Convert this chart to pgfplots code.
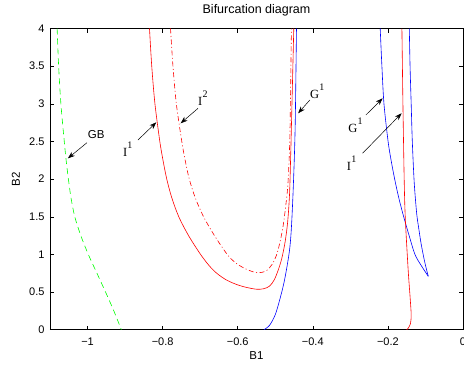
\documentclass[border=0pt]{standalone}
\usepackage{pgfplots}
\pgfplotsset{compat=1.18}
\usepackage{fontspec}
\setmainfont{Liberation Sans}
\newfontfamily\serif{Liberation Serif}
\usetikzlibrary{arrows.meta}
\newcommand{\lab}[2]{{\serif\fontsize{12.5}{12.5}\selectfont #1\kern0.3pt\raisebox{8pt}{\fontsize{10}{10}\selectfont #2}}}
\begin{document}
\begin{tikzpicture}
\begin{axis}[
  scale only axis, width=413pt, height=301.2pt,
  xmin=-1.1, xmax=0, ymin=0, ymax=4,
  axis line style={black, line width=0.6pt},
  tick align=inside, major tick length=4pt,
  tick style={black, line width=0.5pt},
  xtick={-1,-0.8,-0.6,-0.4,-0.2,0},
  xticklabels={−1,−0.8,−0.6,−0.4,−0.2,0},
  ytick={0,0.5,1,1.5,2,2.5,3,3.5,4},
  yticklabels={0,0.5,1,1.5,2,2.5,3,3.5,4},
  tick label style={font=\fontsize{11}{11}\selectfont},
  xticklabel style={yshift=-5pt},
  yticklabel style={xshift=-2pt},
  title={Bifurcation diagram},
  title style={font=\fontsize{12.5}{12.5}\selectfont, at={(axis description cs:0.5,1.0305)}, anchor=base},
  xlabel={B1}, ylabel={B2},
  xlabel style={font=\fontsize{11.5}{11.5}\selectfont, at={(axis description cs:0.5,-0.0983)}, anchor=base},
  ylabel style={font=\fontsize{11.5}{11.5}\selectfont, at={(axis description cs:-0.0727,0.5)}, anchor=base},
  clip=true,
]
% GB (green dashed)
\addplot[green, line width=0.6pt, dash pattern=on 6pt off 4pt, smooth] coordinates {
(-1.081,4) (-1.077,3.5) (-1.071,3) (-1.062,2.5) (-1.057,2.25) (-1.051,2) (-1.044,1.75) (-1.034,1.5) (-1.018,1.25) (-0.998,1) (-0.975,0.75) (-0.952,0.5) (-0.930,0.25) (-0.910,0)};
% I1 left (red solid)
\addplot[red, line width=0.6pt, smooth] coordinates {
(-0.835,4) (-0.829,3.5) (-0.8205,3) (-0.8075,2.5) (-0.799,2.25) (-0.789,2) (-0.7755,1.75) (-0.757,1.5) (-0.731,1.25) (-0.699,1) (-0.676,0.85) (-0.656,0.75) (-0.630,0.66) (-0.600,0.595) (-0.575,0.56) (-0.549,0.537) (-0.530,0.545) (-0.515,0.58) (-0.503,0.66) (-0.493,0.78) (-0.483,0.94) (-0.474,1.16) (-0.467,1.43) (-0.462,1.8) (-0.459,2.3) (-0.456,2.9) (-0.4507,4)};
% I2 (red dash-dot)
\addplot[red, line width=0.6pt, dash pattern=on 5pt off 2.5pt on 1pt off 2.5pt, smooth] coordinates {
(-0.779,4) (-0.7725,3.5) (-0.7635,3) (-0.749,2.5) (-0.740,2.25) (-0.729,2) (-0.713,1.75) (-0.691,1.5) (-0.662,1.25) (-0.628,1.0) (-0.605,0.885) (-0.580,0.81) (-0.560,0.77) (-0.549,0.757) (-0.535,0.762) (-0.522,0.79) (-0.508,0.87) (-0.4975,0.98) (-0.4895,1.12) (-0.480,1.35) (-0.472,1.65) (-0.466,1.96) (-0.461,2.6) (-0.457,4)};
% G1 left (blue)
\addplot[blue, line width=0.6pt, smooth] coordinates {
(-0.530,0) (-0.515,0.06) (-0.500,0.20) (-0.488,0.40) (-0.477,0.62) (-0.468,0.86) (-0.461,1.1) (-0.4565,1.4) (-0.4515,1.96) (-0.447,2.7) (-0.4435,4)};
% G1 right (blue, cusp)
\addplot[blue, line width=0.6pt, smooth] coordinates {
(-0.2205,4) (-0.216,3.5) (-0.2105,3) (-0.1995,2.5) (-0.1915,2.25) (-0.182,2) (-0.171,1.75) (-0.158,1.5) (-0.1435,1.25) (-0.128,1.0) (-0.111,0.85) (-0.0925,0.71)};
\addplot[blue, line width=0.6pt, smooth] coordinates {
(-0.0925,0.71) (-0.102,0.90) (-0.1115,1.14) (-0.118,1.35) (-0.1235,1.55) (-0.130,1.96) (-0.135,2.5) (-0.138,3) (-0.141,3.5) (-0.143,4)};
% I1 right (red)
\addplot[red, line width=0.6pt, smooth] coordinates {
(-0.1627,4) (-0.160,3) (-0.1565,1.96) (-0.1535,1.46) (-0.146,0.79) (-0.141,0.44) (-0.138,0.20) (-0.140,0.08) (-0.146,0.02) (-0.150,0)};
% annotations
\begin{scope}[black, line width=0.5pt, -{Stealth[length=7pt,width=5pt]}]
\draw (axis cs:-1.0017,2.483) -- (axis cs:-1.0523,2.276);
\draw (axis cs:-0.8658,2.519) -- (axis cs:-0.8168,2.754);
\draw (axis cs:-0.7058,2.940) -- (axis cs:-0.752,2.741);
\draw (axis cs:-0.408,3.05) -- (axis cs:-0.4391,2.874);
\draw (axis cs:-0.2587,2.851) -- (axis cs:-0.2141,3.073);
\draw (axis cs:-0.2675,2.343) -- (axis cs:-0.1635,2.874);
\end{scope}
\node[anchor=center, inner sep=0pt, font=\fontsize{11.5}{11.5}\selectfont] at (axis cs:-0.977,2.595) {GB};
\node[anchor=base west, inner sep=0pt] at (axis cs:-0.906,2.297) {\lab{I}{1}};
\node[anchor=base west, inner sep=0pt] at (axis cs:-0.706,2.984) {\lab{I}{2}};
\node[anchor=base west, inner sep=0pt] at (axis cs:-0.408,3.073) {\lab{G}{1}};
\node[anchor=base west, inner sep=0pt] at (axis cs:-0.306,2.621) {\lab{G}{1}};
\node[anchor=base west, inner sep=0pt] at (axis cs:-0.310,2.112) {\lab{I}{1}};
\end{axis}
\pgfresetboundingbox
\path[use as bounding box] (-50pt,-35.3pt) rectangle (414pt,329.7pt);
\end{tikzpicture}
\end{document}
